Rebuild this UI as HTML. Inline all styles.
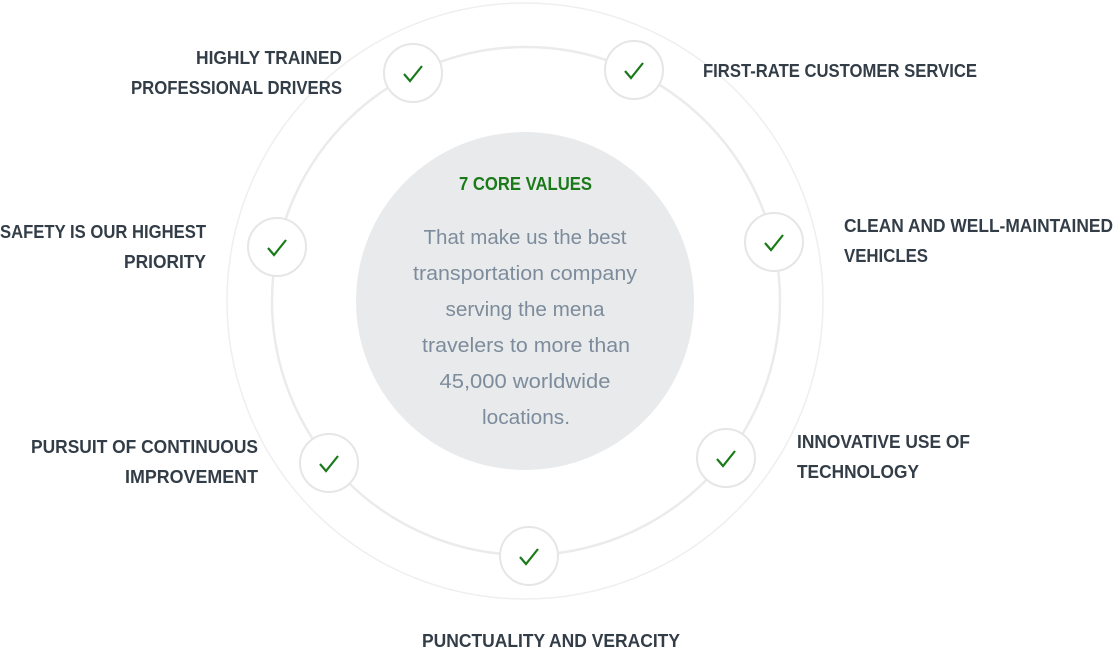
<!DOCTYPE html>
<html><head><meta charset="utf-8"><style>
html,body{margin:0;padding:0;background:#fff;width:1116px;height:653px;overflow:hidden}
svg{display:block}
.l{font-family:"Liberation Sans",sans-serif;font-weight:bold;font-size:18px;fill:#333d47}
.c{font-family:"Liberation Sans",sans-serif;font-size:20px;fill:#7d8c9c;text-anchor:middle}
</style></head><body>
<svg width="1116" height="653" viewBox="0 0 1116 653">
<circle cx="525" cy="301" r="298" fill="none" stroke="#efefef" stroke-width="1.5"/>
<circle cx="526" cy="301" r="254" fill="none" stroke="#ebebeb" stroke-width="2.5"/>
<circle cx="525" cy="301" r="169" fill="#e9eaeb"/>
<g fill="#fff" stroke="#e6e6e6" stroke-width="2">
<circle cx="413" cy="73" r="29"/><circle cx="634" cy="70" r="29"/>
<circle cx="277" cy="247" r="29"/><circle cx="774" cy="242" r="29"/>
<circle cx="329" cy="463" r="29"/><circle cx="726" cy="458" r="29"/>
<circle cx="529" cy="556" r="29"/>
</g>
<g fill="none" stroke="#1a7a1a" stroke-width="2.2">
<path d="M404 74 l6 7 l12 -15"/><path d="M625 71 l6 7 l12 -15"/>
<path d="M268 248 l6 7 l12 -15"/><path d="M765 243 l6 7 l12 -15"/>
<path d="M320 464 l6 7 l12 -15"/><path d="M717 459 l6 7 l12 -15"/>
<path d="M520 557 l6 7 l12 -15"/>
</g>
<g lengthAdjust="spacingAndGlyphs">
<text class="l" x="342" y="64" text-anchor="end" textLength="146" lengthAdjust="spacingAndGlyphs">HIGHLY TRAINED</text>
<text class="l" x="342" y="94" text-anchor="end" textLength="211" lengthAdjust="spacingAndGlyphs">PROFESSIONAL DRIVERS</text>
<text class="l" x="703" y="77" textLength="274" lengthAdjust="spacingAndGlyphs">FIRST-RATE CUSTOMER SERVICE</text>
<text class="l" x="206" y="238" text-anchor="end" textLength="206" lengthAdjust="spacingAndGlyphs">SAFETY IS OUR HIGHEST</text>
<text class="l" x="206" y="268" text-anchor="end" textLength="82" lengthAdjust="spacingAndGlyphs">PRIORITY</text>
<text class="l" x="844" y="232" textLength="269" lengthAdjust="spacingAndGlyphs">CLEAN AND WELL-MAINTAINED</text>
<text class="l" x="844" y="262" textLength="84" lengthAdjust="spacingAndGlyphs">VEHICLES</text>
<text class="l" x="258" y="453" text-anchor="end" textLength="227" lengthAdjust="spacingAndGlyphs">PURSUIT OF CONTINUOUS</text>
<text class="l" x="258" y="483" text-anchor="end" textLength="133" lengthAdjust="spacingAndGlyphs">IMPROVEMENT</text>
<text class="l" x="797" y="448" textLength="173" lengthAdjust="spacingAndGlyphs">INNOVATIVE USE OF</text>
<text class="l" x="797" y="478" textLength="122" lengthAdjust="spacingAndGlyphs">TECHNOLOGY</text>
<text class="l" x="422" y="647" textLength="258" lengthAdjust="spacingAndGlyphs">PUNCTUALITY AND VERACITY</text>
<text x="459" y="190" font-family="Liberation Sans,sans-serif" font-weight="bold" font-size="18" fill="#1a7a1a" textLength="133" lengthAdjust="spacingAndGlyphs">7 CORE VALUES</text>
<text class="c" x="525" y="244" textLength="203" lengthAdjust="spacingAndGlyphs">That make us the best</text>
<text class="c" x="525" y="280" textLength="224" lengthAdjust="spacingAndGlyphs">transportation company</text>
<text class="c" x="525" y="316" textLength="159" lengthAdjust="spacingAndGlyphs">serving the mena</text>
<text class="c" x="526" y="352" textLength="208" lengthAdjust="spacingAndGlyphs">travelers to more than</text>
<text class="c" x="525" y="388" textLength="171" lengthAdjust="spacingAndGlyphs">45,000 worldwide</text>
<text class="c" x="526" y="424" textLength="88" lengthAdjust="spacingAndGlyphs">locations.</text>
</g>
</svg>
</body></html>
